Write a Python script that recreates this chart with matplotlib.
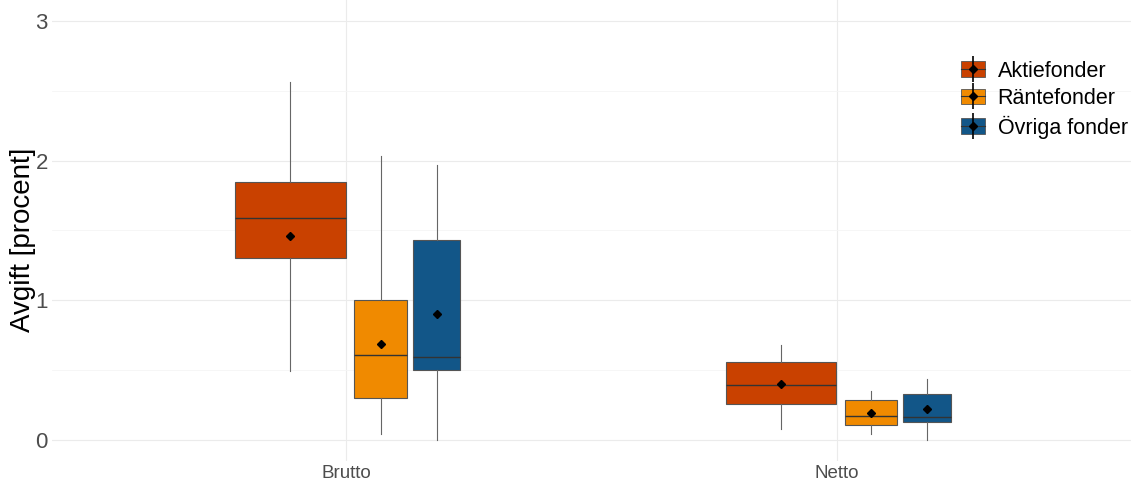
import matplotlib
matplotlib.use("Agg")
import matplotlib.pyplot as plt
from matplotlib.patches import Patch
from matplotlib.lines import Line2D
from matplotlib.legend_handler import HandlerTuple

plt.rcParams['font.family'] = ['Liberation Sans', 'DejaVu Sans']

categories = ['Brutto', 'Netto']
groups = ['Aktiefonder', 'Räntefonder', 'Övriga fonder']
colors = ['#C94100', '#F08A00', '#125688']

# per group: [Brutto, Netto]
whislo = {'Aktiefonder': [0.49, 0.08], 'Räntefonder': [0.04, 0.04], 'Övriga fonder': [0.0, 0.0]}
q1 = {'Aktiefonder': [1.30, 0.26], 'Räntefonder': [0.30, 0.107], 'Övriga fonder': [0.50, 0.13]}
med = {'Aktiefonder': [1.59, 0.395], 'Räntefonder': [0.61, 0.17], 'Övriga fonder': [0.595, 0.162]}
q3 = {'Aktiefonder': [1.845, 0.557], 'Räntefonder': [0.998, 0.283], 'Övriga fonder': [1.433, 0.331]}
whishi = {'Aktiefonder': [2.565, 0.68], 'Räntefonder': [2.035, 0.348], 'Övriga fonder': [1.965, 0.438]}
mean = {'Aktiefonder': [1.46, 0.40], 'Räntefonder': [0.686, 0.193], 'Övriga fonder': [0.898, 0.219]}

# dodge layout (category units)
offsets = [-0.114, 0.070, 0.184]
widths = [0.225, 0.107, 0.097]

fig = plt.figure(figsize=(11.31, 4.8), dpi=100)
ax = fig.add_axes([0.046, 0.04, 0.954, 0.96])

for gi, g in enumerate(groups):
    stats = []
    pos = []
    for ci in range(len(categories)):
        stats.append(dict(whislo=whislo[g][ci], q1=q1[g][ci], med=med[g][ci],
                          q3=q3[g][ci], whishi=whishi[g][ci], mean=mean[g][ci], fliers=[]))
        pos.append(ci + 1 + offsets[gi])
    ax.bxp(stats, positions=pos, widths=widths[gi], patch_artist=True, showcaps=False,
           showmeans=True, manage_ticks=False,
           boxprops=dict(facecolor=colors[gi], edgecolor='#555555', linewidth=0.8),
           medianprops=dict(color='#333333', linewidth=1.0),
           whiskerprops=dict(color='#666666', linewidth=0.8),
           meanprops=dict(marker='D', markerfacecolor='black', markeredgecolor='black',
                          markersize=4.5), zorder=3)

ax.set_xlim(0.4, 2.6)
ax.set_ylim(-0.15, 3.15)
ax.set_xticks([1, 2])
ax.set_xticklabels(categories, fontsize=13.5, color='#4D4D4D')
ax.set_yticks([0, 1, 2, 3])
ax.set_yticklabels(['0', '1', '2', '3'], fontsize=16, color='#4D4D4D')
ax.set_yticks([0.5, 1.5, 2.5], minor=True)
ax.tick_params(axis='both', which='both', length=0, pad=3)
ax.grid(True, which='major', color='#EBEBEB', linewidth=0.8, zorder=0)
ax.grid(True, which='minor', axis='y', color='#F5F5F5', linewidth=0.6, zorder=0)
ax.set_axisbelow(True)
for s in ax.spines.values():
    s.set_visible(False)
ax.set_ylabel('Avgift [procent]', fontsize=20, color='black')
ax.yaxis.set_label_coords(-0.0148, 0.479)

handles = []
for gi, g in enumerate(groups):
    handles.append((Patch(facecolor=colors[gi], edgecolor='#555555', linewidth=0.6),
                    Line2D([], [], color='#333333', linewidth=0.8),
                    Line2D([], [], color='black', marker='|', markersize=19, linestyle='None',
                           markeredgewidth=1.2),
                    Line2D([], [], color='black', marker='D', markersize=4.5, linestyle='None')))
ax.legend(handles, groups, handler_map={tuple: HandlerTuple(ndivide=1, pad=0)},
          loc='upper right', bbox_to_anchor=(1.007, 0.892), frameon=False, fontsize=15.5,
          handlelength=1.1, handleheight=0.75, labelspacing=0.3, handletextpad=0.6,
          borderaxespad=0.1)

fig.savefig('out.png', dpi=100)
